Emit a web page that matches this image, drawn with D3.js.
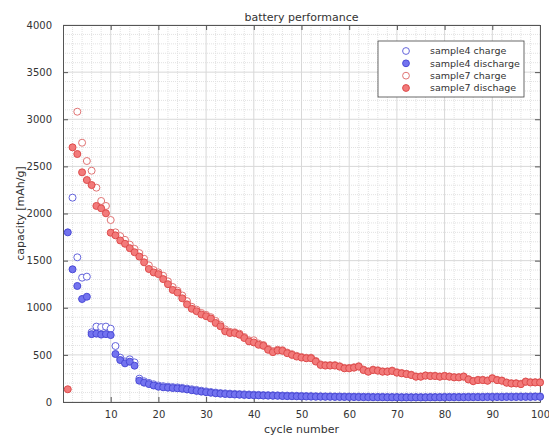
<!DOCTYPE html>
<html>
<head>
<meta charset="utf-8">
<script src="https://cdn.jsdelivr.net/npm/d3@7"></script>
<style>
  body { margin: 0; background: #fff; }
  text { font-family: "DejaVu Sans", sans-serif; fill: #333; }
</style>
</head>
<body>
<div id="chart"></div>
<script>
// cycle numbers 1..100
var cycles = d3.range(1, 101);

var sample4Discharge = [1800,1408,1231,1093,1117,720,725,715,720,710,
  509,445,410,428,385,226,205,190,175,162,
  156,152,148,145,140,133,125,118,110,104,
  98,93,88,85,82,79,77,75,73,71,
  70,68,67,66,65,63,62,61,60,59,
  58,57,56,56,55,55,54,54,53,53,
  52,52,51,51,50,50,50,49,49,49,
  48,48,48,48,48,48,49,49,49,50,
  50,50,50,50,51,51,51,51,52,52,
  52,52,53,53,53,54,54,54,55,55];

var sample4Charge = [null,2168,1535,1319,1330,740,800,795,800,778,
  594,470,430,453,420,248,220,203,188,175,
  168,163,158,155,150,143,135,128,120,113,
  106,100,95,92,89,86,84,82,80,78,
  76,74,73,72,71,69,68,67,66,65,
  64,63,62,61,60,60,59,59,58,58,
  57,57,56,56,55,55,55,54,54,54,
  53,53,53,53,53,53,54,54,54,55,
  55,55,55,55,56,56,56,56,57,57,
  57,57,58,58,58,59,59,59,60,60];

var sample7Discharge = [135,2702,2631,2437,2355,2302,2080,2055,2002,1796,
  1768,1714,1679,1632,1589,1543,1482,1411,1375,1357,
  1304,1250,1189,1161,1100,1036,989,964,929,911,
  886,839,804,750,732,732,714,679,643,632,
  607,596,554,529,546,543,518,500,482,471,
  464,464,429,393,386,386,386,375,357,357,
  364,375,339,321,339,332,321,321,329,311,
  304,296,286,268,268,279,275,275,268,275,
  268,261,261,268,239,221,232,232,225,250,
  232,225,204,196,196,189,214,207,207,207];

var sample7Charge = [null,null,3080,2751,2557,2454,2274,2133,2080,1931,
  1800,1760,1720,1670,1625,1580,1520,1450,1400,1375,
  1340,1280,1220,1180,1130,1070,1010,980,945,925,
  900,860,820,770,745,740,725,690,655,655,
  620,605,565,540,555,550,525,508,490,478,
  470,470,436,400,392,392,392,380,362,362,
  369,380,344,326,344,337,326,326,334,316,
  308,300,290,272,272,283,279,279,272,279,
  272,265,265,272,243,225,236,236,229,254,
  236,229,208,200,200,193,218,211,211,211];

var xTicks = [10,20,30,40,50,60,70,80,90,100];
var yTicks = [0,500,1000,1500,2000,2500,3000,3500,4000];

var seriesNames = ["sample4 charge","sample4 discharge","sample7 charge","sample7 dischage"];

var W = 549, H = 437;
var margin = {top: 25, right: 9, bottom: 35, left: 63},
  width = W - margin.left - margin.right,
  height = H - margin.top - margin.bottom;

var x = d3.scaleLinear().domain([0, 100]).range([0, width]);
var y = d3.scaleLinear().domain([0, 4000]).range([height, 0]);

var svg = d3.select("#chart").append("svg")
  .attr("width", W)
  .attr("height", H);

var g = svg.append("g")
  .attr("transform", "translate(" + margin.left + "," + margin.top + ")");

// minor grid
g.append("g").selectAll("line")
  .data(d3.range(2, 100, 2).filter(function(d) { return d % 10 != 0; }))
  .enter().append("line")
  .attr("x1", function(d) { return x(d); }).attr("x2", function(d) { return x(d); })
  .attr("y1", 0).attr("y2", height)
  .attr("stroke", "#e2e2e2").attr("stroke-dasharray", "1,1");

g.append("g").selectAll("line")
  .data(d3.range(100, 4000, 100).filter(function(d) { return d % 500 != 0; }))
  .enter().append("line")
  .attr("y1", function(d) { return y(d); }).attr("y2", function(d) { return y(d); })
  .attr("x1", 0).attr("x2", width)
  .attr("stroke", "#e2e2e2").attr("stroke-dasharray", "1,1");

// major grid
g.append("g").selectAll("line")
  .data(xTicks)
  .enter().append("line")
  .attr("x1", function(d) { return x(d); }).attr("x2", function(d) { return x(d); })
  .attr("y1", 0).attr("y2", height)
  .attr("stroke", "#d8d8d8");

g.append("g").selectAll("line")
  .data(yTicks)
  .enter().append("line")
  .attr("y1", function(d) { return y(d); }).attr("y2", function(d) { return y(d); })
  .attr("x1", 0).attr("x2", width)
  .attr("stroke", "#d8d8d8");

// axes (ticks inside, box)
var xAxis = d3.axisBottom(x).tickValues(xTicks).tickFormat(d3.format("d"))
  .tickSizeInner(-5).tickSizeOuter(0).tickPadding(9);
var yAxis = d3.axisLeft(y).tickValues(yTicks).tickFormat(d3.format("d"))
  .tickSizeInner(-5).tickSizeOuter(0).tickPadding(11);

g.append("g")
  .attr("transform", "translate(0," + height + ")")
  .call(xAxis);
g.append("g")
  .call(yAxis);
g.append("g")
  .call(d3.axisTop(x).tickValues(xTicks).tickSizeInner(-5).tickSizeOuter(0).tickFormat(""));
g.append("g")
  .attr("transform", "translate(" + width + ",0)")
  .call(d3.axisRight(y).tickValues(yTicks).tickSizeInner(-5).tickSizeOuter(0).tickFormat(""));

g.selectAll(".domain").attr("stroke", "#555");
g.selectAll(".tick line").attr("stroke", "#555");
g.selectAll(".tick text")
  .style("font-family", "DejaVu Sans")
  .style("font-size", "10px")
  .attr("fill", "#333");

// markers
var styles = [
  {data: sample4Charge, fill: "#ffffff", stroke: "#6565dc"},
  {data: sample4Discharge, fill: "#7373ef", stroke: "#4a4ad6"},
  {data: sample7Charge, fill: "#ffffff", stroke: "#e07474"},
  {data: sample7Discharge, fill: "#f27a7a", stroke: "#de4c4c"}
];

styles.forEach(function(s) {
  var pts = cycles.map(function(c, i) { return {c: c, v: s.data[i]}; })
    .filter(function(d) { return d.v != null; });
  g.append("g").selectAll("circle")
    .data(pts)
    .enter().append("circle")
    .attr("cx", function(d) { return x(d.c); })
    .attr("cy", function(d) { return y(d.v); })
    .attr("r", 3.5)
    .attr("fill", s.fill)
    .attr("stroke", s.stroke)
    .attr("stroke-width", 1);
});

// title and labels
svg.append("text")
  .attr("x", margin.left + width / 2)
  .attr("y", 21)
  .attr("text-anchor", "middle")
  .style("font-size", "11px")
  .text("battery performance");

svg.append("text")
  .attr("x", margin.left + width / 2)
  .attr("y", 433)
  .attr("text-anchor", "middle")
  .style("font-size", "11px")
  .text("cycle number");

svg.append("text")
  .attr("transform", "translate(24," + (margin.top + height / 2) + ") rotate(-90)")
  .attr("text-anchor", "middle")
  .style("font-size", "11px")
  .text("capacity [mAh/g]");

// legend
var legend = svg.append("g").attr("transform", "translate(378,41)");
legend.append("rect")
  .attr("width", 146).attr("height", 56)
  .attr("fill", "#fff").attr("stroke", "#444").attr("stroke-width", 0.8);

var rowY = d3.scaleLinear().domain([0, 3]).range([10, 47]);
seriesNames.forEach(function(name, i) {
  legend.append("circle")
    .attr("cx", 28).attr("cy", rowY(i))
    .attr("r", 3.4)
    .attr("fill", styles[i].fill)
    .attr("stroke", styles[i].stroke);
  legend.append("text")
    .attr("x", 52).attr("y", rowY(i))
    .attr("dy", "0.35em")
    .style("font-size", "9.5px")
    .text(name);
});
</script>
</body>
</html>
